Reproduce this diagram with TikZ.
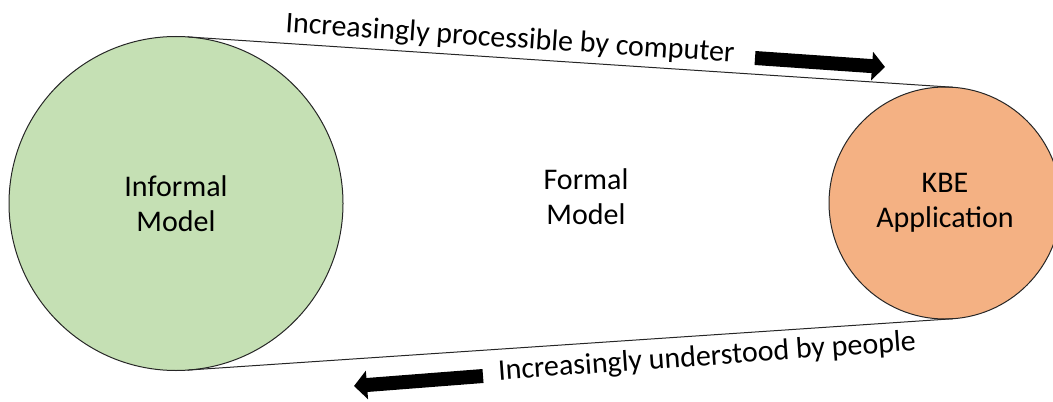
\documentclass[tikz,border=0pt]{standalone}
\usepackage{fontspec}
\setmainfont{Carlito}
\usetikzlibrary{arrows.meta}

\definecolor{verdeclaro}{RGB}{197,224,180}
\definecolor{naranja}{RGB}{244,177,131}

\tikzset{
  modelo/.style={circle, draw=black!85, line width=0.5pt, inner sep=0pt,
    outer sep=0pt, align=center, font=\fontsize{15}{17.5}\selectfont},
  texto/.style={inner sep=0pt, align=center, font=\fontsize{15}{17.5}\selectfont},
  banda/.style={draw=black!85, line width=0.5pt},
  flecha/.style={line width=7pt, -{Triangle[length=6.5pt, width=14pt]}}
}

\begin{document}
\begin{tikzpicture}[x=0.5pt, y=-0.5pt]
        \useasboundingbox (0,0) rectangle (1053,401);

        % Paso 1: Dibuja los dos modelos como circulos
        \node[modelo, fill=verdeclaro, minimum size=167pt] (informal) at (176,203.5) {Informal\\Model};
        \node[modelo, fill=naranja, minimum size=116pt] (kbe) at (945,203) {KBE\\Application};

        % Paso 2: Dibuja las tangentes exteriores (la banda)
        \draw[banda] (informal.86.2) -- (kbe.86.2);
        \draw[banda] (informal.-86.2) -- (kbe.-86.2);

        % Paso 3: Texto del centro
        \node[texto] (formal) at (586,197) {Formal\\Model};

        % Paso 4: Etiquetas inclinadas sobre la banda
        \node[texto, rotate=-3.8] (procesable) at (510,39.5) {Increasingly processible by computer};
        \node[texto, rotate=4.1] (entendido) at (707,357.5) {Increasingly understood by people};

        % Paso 5: Flechas gruesas
        \coordinate (arriba-ini) at (755,58);
        \coordinate (arriba-fin) at (885,67);
        \draw[flecha] (arriba-ini) -- (arriba-fin);

        \coordinate (abajo-ini) at (483,376);
        \coordinate (abajo-fin) at (354,386);
        \draw[flecha] (abajo-ini) -- (abajo-fin);
\end{tikzpicture}
\end{document}
